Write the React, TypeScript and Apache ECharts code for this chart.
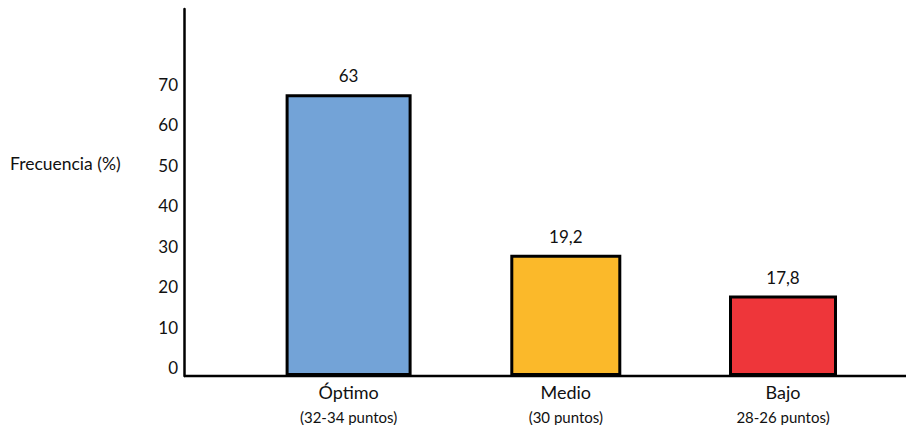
import React, { useEffect, useRef } from "react";
import * as echarts from "echarts";

const categories = ["Óptimo", "Medio", "Bajo"];
const subLabels = ["(32-34 puntos)", "(30 puntos)", "28-26 puntos)"];
// bar heights as drawn on the picture's scale
const barHeights = [69.7, 30.0, 19.9];
// values printed above the bars
const labelValues = ["63", "19,2", "17,8"];
const colors = ["#73A3D7", "#FBB92A", "#EE363A"];
const barWidths = [126, 111, 108];
const yTicks = [0, 10, 20, 30, 40, 50, 60, 70];
const yTitle = "Frecuencia (%)";

const FONT = "Lato, 'Open Sans', sans-serif";

export default function App() {
  const ref = useRef<HTMLDivElement>(null);
  useEffect(() => {
    if (!ref.current) return;
    const chart = echarts.init(ref.current, null, { renderer: "svg" });
    const series = categories.map((c, i) => ({
      type: "bar",
      name: c,
      xAxisIndex: i,
      barWidth: barWidths[i],
      data: categories.map((_, j) => (j === i ? barHeights[i] : null)),
      itemStyle: { color: colors[i], borderColor: "#000", borderWidth: 3 },
      label: {
        show: true,
        position: "top",
        distance: 10,
        formatter: () => labelValues[i],
        color: "#111",
        fontSize: 17,
        fontFamily: FONT,
      },
    }));
    const hiddenAxis = (i: number) => ({
      type: "category",
      data: categories,
      show: false,
      position: "bottom",
      id: "x" + i,
    });
    chart.setOption({
      animation: false,
      grid: { left: 240, right: 14.4, top: 9, bottom: 49 },
      xAxis: [
        {
          type: "category",
          data: categories,
          axisLine: { show: false },
          axisTick: { show: false },
          axisLabel: {
            margin: 4,
            formatter: (v: string, idx: number) => `{a|${v}}\n{b|${subLabels[idx]}}`,
            rich: {
              a: { fontSize: 18, fontFamily: FONT, color: "#111", lineHeight: 24 },
              b: { fontSize: 15, fontFamily: FONT, color: "#111", lineHeight: 25 },
            },
          },
        },
        hiddenAxis(1),
        hiddenAxis(2),
      ],
      yAxis: {
        type: "value",
        min: 0,
        max: 90.8,
        interval: 10,
        offset: 56,
        splitLine: { show: false },
        axisTick: { show: false },
        axisLine: { show: true, lineStyle: { color: "#000", width: 2.5 } },
        axisLabel: {
          margin: 6,
          fontSize: 17,
          fontFamily: FONT,
          color: "#111",
          verticalAlign: "bottom",
          formatter: (v: number) => (yTicks.includes(v) ? String(v) : ""),
        },
      },
      graphic: [
        {
          type: "line",
          shape: { x1: 184, y1: 376, x2: 906, y2: 376 },
          style: { stroke: "#000", lineWidth: 2.5 },
          z: 10,
        },
        {
          type: "text",
          left: 10,
          top: 154,
          style: { text: yTitle, fontSize: 17.5, fontFamily: FONT, fill: "#111" },
        },
      ],
      series,
    });
    return () => chart.dispose();
  }, []);
  return <div ref={ref} style={{ width: 906, height: 425, position: "absolute", left: 0, top: 0 }} />;
}
